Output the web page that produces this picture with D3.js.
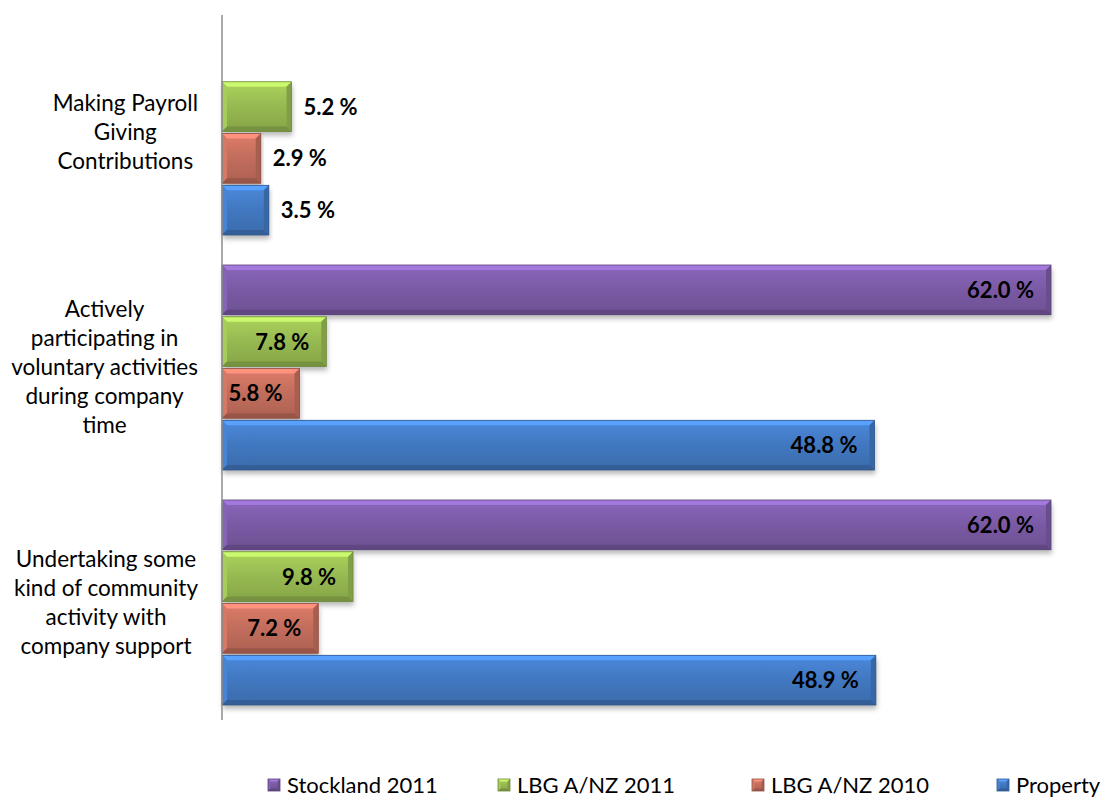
<!DOCTYPE html>
<html>
<head>
<meta charset="utf-8">
<script src="https://cdnjs.cloudflare.com/ajax/libs/d3/7.8.5/d3.min.js"></script>
<style>
  body { margin: 0; background: #fff; }
  svg { display: block; font-family: Lato, "Open Sans", sans-serif; }
</style>
</head>
<body>
<svg id="chart" width="1101" height="797"></svg>
<script>
// categories top to bottom
const categories = [
  ["Making Payroll", "Giving", "Contributions"],
  ["Actively", "participating in", "voluntary activities", "during company", "time"],
  ["Undertaking some", "kind of community", "activity with", "company support"]
]
const series = ["Stockland 2011", "LBG A/NZ 2011", "LBG A/NZ 2010", "Property"]
// values per series, one per category (null = no bar)
const stockland2011 = [null, 62.0, 62.0]
const lbg2011 = [5.2, 7.8, 9.8]
const lbg2010 = [2.9, 5.8, 7.2]
const property = [3.5, 48.8, 48.9]
const values = [stockland2011, lbg2011, lbg2010, property]

const colors = ["#7b5ba6", "#98bb52", "#c46e5d", "#4279c2"]

const svg = d3.select("#chart")
const axisX = 222, plotTop = 15, plotBottom = 720

const x = d3.scaleLinear().domain([0, 62]).range([axisX, 1051])
const yCat = d3.scaleBand().domain(d3.range(categories.length)).range([plotTop, plotBottom])
const ySer = d3.scaleBand().domain(d3.range(series.length))
  .range([15, yCat.bandwidth() - 15]).paddingInner(0.04)

// drop shadow
const defs = svg.append("defs")
const f = defs.append("filter").attr("id", "shadow")
  .attr("x", "-5%").attr("y", "-20%").attr("width", "112%").attr("height", "160%")
f.append("feDropShadow").attr("dx", 1).attr("dy", 4).attr("stdDeviation", 2.5)
  .attr("flood-color", "#000").attr("flood-opacity", 0.28)

colors.forEach((c, i) => {
  let g = defs.append("linearGradient").attr("id", "grad" + i)
    .attr("x1", 0).attr("y1", 0).attr("x2", 0).attr("y2", 1)
  g.append("stop").attr("offset", "0%").attr("stop-color", d3.color(c).brighter(0.35))
  g.append("stop").attr("offset", "45%").attr("stop-color", c)
  g.append("stop").attr("offset", "100%").attr("stop-color", d3.color(c).darker(0.35))
})

// bars with a bevel
function bevelBar(g, x0, y0, w, h, i, b) {
  let c = colors[i]
  g.append("rect").attr("x", x0).attr("y", y0).attr("width", w).attr("height", h)
    .attr("fill", "url(#grad" + i + ")").attr("filter", "url(#shadow)")
  let x1 = x0 + w, y1 = y0 + h
  let pts = (a) => a.map(p => p.join(",")).join(" ")
  g.append("polygon").attr("points", pts([[x0, y0], [x1, y0], [x1 - b, y0 + b], [x0 + b, y0 + b]]))
    .attr("fill", d3.color(c).brighter(0.8))
  g.append("polygon").attr("points", pts([[x0, y0], [x0 + b, y0 + b], [x0 + b, y1 - b], [x0, y1]]))
    .attr("fill", d3.color(c).brighter(0.25))
  g.append("polygon").attr("points", pts([[x1, y0], [x1, y1], [x1 - b, y1 - b], [x1 - b, y0 + b]]))
    .attr("fill", d3.color(c).darker(0.45))
  g.append("polygon").attr("points", pts([[x0, y1], [x0 + b, y1 - b], [x1 - b, y1 - b], [x1, y1]]))
    .attr("fill", d3.color(c).darker(0.7))
  g.append("rect").attr("x", x0).attr("y", y0).attr("width", w).attr("height", h)
    .attr("fill", "none").attr("stroke", d3.color(c).darker(0.9)).attr("stroke-width", 0.8)
}

const bars = svg.append("g")
const labels = svg.append("g")
categories.forEach((cat, ci) => {
  values.forEach((vals, si) => {
    let v = vals[ci]
    if (v == null) return
    let y0 = yCat(ci) + ySer(si), h = ySer.bandwidth()
    bevelBar(bars, x(0), y0, x(v) - x(0), h, si, 5)
    let t = labels.append("text")
      .attr("y", y0 + h / 2).attr("dy", "0.36em")
      .attr("font-size", 22).attr("font-weight", "bold").attr("fill", "#000")
      .text(v.toFixed(1) + " %")
    let tw = t.node().getComputedTextLength()
    let w = x(v) - x(0)
    if (w >= tw + 19) {
      t.attr("x", x(v) - 17).attr("text-anchor", "end")
    } else {
      t.attr("x", x(v) + 12).attr("text-anchor", "start")
    }
  })
})

// axis line
svg.append("line").attr("x1", axisX).attr("x2", axisX).attr("y1", plotTop).attr("y2", plotBottom)
  .attr("stroke", "#8c8c8c").attr("stroke-width", 1.5)

// category labels, centred block right aligned near axis
const lineH = 29
categories.forEach((lines, ci) => {
  let g = svg.append("g")
  let cy = yCat(ci) + yCat.bandwidth() / 2
  let texts = lines.map((s, k) => g.append("text")
    .attr("y", cy + (k - (lines.length - 1) / 2) * lineH).attr("dy", "0.35em")
    .attr("font-size", 22.5).attr("fill", "#000").attr("text-anchor", "middle").text(s))
  let maxW = d3.max(texts, t => t.node().getComputedTextLength())
  texts.forEach(t => t.attr("x", 198 - maxW / 2))
})

// legend
const legendX = [268, 498, 752, 997]
const legend = svg.append("g")
series.forEach((s, i) => {
  let g = legend.append("g").attr("transform", "translate(" + legendX[i] + ",779)")
  bevelBar(g, 0, 0, 12, 12, i, 2.5)
  g.select("rect").attr("filter", null)
  g.append("text").attr("x", 19).attr("y", 6).attr("dy", "0.36em")
    .attr("font-size", 22).attr("fill", "#000").text(s)
})
</script>
</body>
</html>
